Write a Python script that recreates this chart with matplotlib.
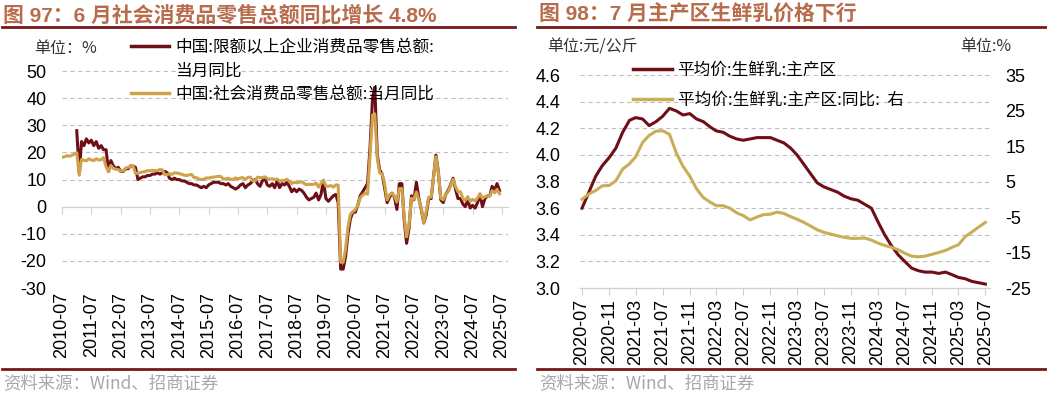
import numpy as np
import pandas as pd
import matplotlib
matplotlib.use('Agg')
import matplotlib.pyplot as plt
from matplotlib.lines import Line2D
import matplotlib.dates as mdates

plt.rcParams['font.family'] = ['Liberation Sans', 'Noto Sans CJK SC', 'DejaVu Sans']
plt.rcParams['axes.unicode_minus'] = False

DARK = '#6E0F17'
GOLD_L = '#D0A24A'
GOLD_R = '#C9AE57'
TITLE_C = '#B86C4C'
RULE_C = '#7A1619'
GRID_C = '#BFBFBF'
SPINE_C = '#D0D0D0'
CJK = ['Noto Sans CJK SC', 'DejaVu Sans']

# ---- left chart: retail sales yoy, monthly 2010-07 .. 2025-06
left_dates = pd.date_range('2010-07-01', '2025-06-01', freq='MS')

rs_2010 = [18.2, 18.4, 18.8, 18.6, 18.9, 19.4]
rs_2011 = [19.9, 11.6, 17.4, 17.1, 16.9, 17.7, 17.2, 17.0, 17.7, 17.2, 17.3, 18.1]
rs_2012 = [14.7, 13.0, 15.2, 14.1, 13.8, 13.7, 13.1, 13.2, 14.2, 14.5, 14.9, 15.2]
rs_2013 = [12.3, 12.3, 12.6, 12.8, 12.9, 13.3, 13.2, 13.4, 13.3, 13.3, 13.7, 13.6]
rs_2014 = [11.8, 11.8, 12.2, 11.9, 12.5, 12.4, 12.2, 11.9, 11.6, 11.5, 11.7, 11.9]
rs_2015 = [10.7, 10.7, 10.2, 10.0, 10.1, 10.6, 10.5, 10.8, 10.9, 11.0, 11.2, 11.1]
rs_2016 = [10.2, 10.2, 10.5, 10.1, 10.0, 10.6, 10.2, 10.6, 10.7, 10.0, 10.8, 10.9]
rs_2017 = [9.5, 9.5, 10.9, 10.7, 10.7, 11.0, 10.4, 10.1, 10.3, 10.0, 10.2, 9.4]
rs_2018 = [9.7, 9.7, 10.1, 9.4, 8.5, 9.0, 8.8, 9.0, 9.2, 8.6, 8.1, 8.2]
rs_2019 = [8.2, 8.2, 8.7, 7.2, 8.6, 9.8, 7.6, 7.5, 7.8, 7.2, 8.0, 8.0]
rs_2020 = [-20.5, -20.5, -15.8, -7.5, -2.8, -1.8, -1.1, 0.5, 3.3, 4.3, 5.0, 4.6]
rs_2021 = [19.0, 33.8, 34.2, 17.7, 12.4, 12.1, 8.5, 2.5, 4.4, 4.9, 3.9, 1.7]
rs_2022 = [6.7, 6.7, -3.5, -11.1, -6.7, 3.1, 2.7, 5.4, 2.5, -0.5, -5.9, -1.8]
rs_2023 = [3.5, 3.5, 10.6, 18.4, 12.7, 3.1, 2.5, 4.6, 5.5, 7.6, 10.1, 7.4]
rs_2024 = [5.5, 5.5, 3.1, 2.3, 3.7, 2.0, 2.7, 2.1, 3.2, 4.8, 3.0, 3.7]
rs_2025 = [4.0, 4.0, 5.9, 5.1, 6.4, 4.8]

dr_2010 = [np.nan] * 6
dr_2011 = [28.0, 12.5, 24.0, 22.5, 25.0, 23.5, 24.5, 22.5, 24.0, 21.5, 22.5, 21.0]
dr_2012 = [21.0, 13.0, 17.0, 15.0, 14.0, 14.5, 13.0, 13.0, 14.0, 14.0, 15.0, 15.0]
dr_2013 = [14.5, 10.0, 10.5, 11.0, 11.0, 11.5, 11.5, 12.0, 12.0, 12.5, 12.0, 12.5]
dr_2014 = [13.0, 12.5, 10.5, 10.0, 10.5, 10.0, 10.0, 9.5, 9.5, 9.0, 8.5, 8.5]
dr_2015 = [8.0, 8.0, 7.5, 7.0, 7.5, 7.0, 8.0, 8.5, 9.0, 9.0, 9.0, 8.5]
dr_2016 = [8.5, 8.0, 8.5, 7.5, 7.0, 6.5, 7.0, 8.0, 8.5, 7.0, 8.0, 8.5]
dr_2017 = [9.5, 10.0, 8.5, 7.5, 9.5, 10.5, 8.0, 7.5, 8.5, 7.0, 9.5, 7.0]
dr_2018 = [8.5, 8.0, 9.0, 7.5, 5.5, 6.5, 5.5, 6.5, 6.0, 5.0, 3.5, 2.5]
dr_2019 = [3.0, 3.5, 5.0, 2.5, 4.5, 9.5, 3.0, 2.0, 3.0, 4.0, 4.5, 1.5]
dr_2020 = [-23.0, -23.0, -18.5, -10.0, -4.5, -2.0, -2.0, 0.5, 4.0, 5.5, 7.0, 8.5]
dr_2021 = [22.0, 40.0, 44.0, 19.0, 13.5, 12.0, 7.0, 1.5, 3.5, 5.0, 3.5, -1.0]
dr_2022 = [8.5, 8.5, -4.5, -13.5, -8.0, 4.0, 2.5, 9.0, 3.0, -1.0, -6.0, -3.0]
dr_2023 = [3.0, 3.0, 10.5, 19.0, 13.0, 2.5, 1.5, 4.5, 6.0, 8.0, 10.5, 6.5]
dr_2024 = [3.0, 3.0, 1.0, 0.0, 2.5, -0.5, 0.5, -0.5, 1.5, 4.5, 0.0, 3.0]
dr_2025 = [4.0, 4.0, 7.5, 6.0, 8.5, 6.0]

retail_yoy = (rs_2010 + rs_2011 + rs_2012 + rs_2013 + rs_2014 + rs_2015 + rs_2016 + rs_2017
              + rs_2018 + rs_2019 + rs_2020 + rs_2021 + rs_2022 + rs_2023 + rs_2024 + rs_2025)
above_yoy = (dr_2010 + dr_2011 + dr_2012 + dr_2013 + dr_2014 + dr_2015 + dr_2016 + dr_2017
             + dr_2018 + dr_2019 + dr_2020 + dr_2021 + dr_2022 + dr_2023 + dr_2024 + dr_2025)
left_ticks = pd.date_range('2010-07-01', '2025-07-01', freq='12MS')

# ---- right chart: raw milk price, monthly 2020-07 .. 2025-07
right_dates = pd.date_range('2020-07-01', '2025-07-01', freq='MS')
milk_price = [3.60, 3.72, 3.84, 3.92, 3.98, 4.05, 4.17, 4.26, 4.28, 4.27, 4.22, 4.25,
              4.29, 4.35, 4.33, 4.30, 4.31, 4.27, 4.25, 4.21, 4.18, 4.17, 4.14, 4.12,
              4.11, 4.12, 4.13, 4.13, 4.13, 4.11, 4.09, 4.05, 4.00, 3.93, 3.86, 3.79,
              3.76, 3.74, 3.72, 3.69, 3.67, 3.66, 3.63, 3.60, 3.50, 3.40, 3.32, 3.25,
              3.20, 3.15, 3.13, 3.12, 3.12, 3.11, 3.12, 3.10, 3.08, 3.07, 3.05, 3.04, 3.03]
milk_yoy = [0.0, 1.5, 2.5, 3.8, 3.9, 5.2, 8.5, 10.0, 12.0, 16.0, 18.0, 19.2,
            19.3, 18.3, 13.0, 9.3, 6.5, 3.0, 0.5, -0.8, -1.8, -1.8, -2.5, -3.8,
            -4.6, -5.8, -5.0, -4.3, -4.2, -3.6, -4.0, -4.9, -5.6, -6.5, -7.5, -8.6,
            -9.3, -9.8, -10.3, -10.7, -11.0, -11.0, -10.9, -11.5, -12.3, -13.0, -13.5, -14.2,
            -15.2, -16.0, -16.2, -16.0, -15.5, -15.0, -14.4, -13.5, -12.8, -10.5, -9.2, -7.8, -6.5]
right_ticks = pd.date_range('2020-07-01', '2025-07-01', freq='4MS')

fig = plt.figure(figsize=(10.47, 3.99), dpi=100)

# header / footer text and rules
fig.text(0.003, 0.963, '图 97：6 月社会消费品零售总额同比增长 4.8%', color=TITLE_C,
         fontsize=15, fontweight='bold', va='center', family=['Liberation Sans'] + CJK)
fig.text(0.515, 0.963, '图 98：7 月主产区生鲜乳价格下行', color=TITLE_C,
         fontsize=15, fontweight='bold', va='center', family=['Liberation Sans'] + CJK)
for x0, x1 in [(0.002, 0.492), (0.513, 1.0)]:
    fig.add_artist(Line2D([x0, x1], [0.932, 0.932], color=RULE_C, lw=2, transform=fig.transFigure))
    fig.add_artist(Line2D([x0, x1], [0.075, 0.075], color=RULE_C, lw=2, transform=fig.transFigure))
fig.text(0.003, 0.040, '资料来源：Wind、招商证券', color='#A8A8A8', fontsize=12.5,
         va='center', family=CJK)
fig.text(0.515, 0.040, '资料来源：Wind、招商证券', color='#A8A8A8', fontsize=12.5,
         va='center', family=CJK)
fig.text(0.033, 0.878, '单位：%', fontsize=11.5, va='center', color='#333333', family=CJK)
fig.text(0.523, 0.883, '单位:元/公斤', fontsize=11.5, va='center', color='#333333', family=CJK)
fig.text(0.917, 0.883, '单位:%', fontsize=11.5, va='center', color='#333333', family=CJK)

# ---------------- left chart
ax = fig.add_axes([0.0592, 0.278, 0.4260, 0.544])
ax.plot(left_dates, above_yoy, color=DARK, lw=2.2, zorder=3)
ax.plot(left_dates, retail_yoy, color=GOLD_L, lw=2.2, zorder=4)
ax.set_ylim(-30, 50)
ax.set_yticks(np.arange(-30, 51, 10))
ax.set_xlim(pd.Timestamp('2010-07-01'), pd.Timestamp('2025-09-15'))
for s in ['left', 'right', 'top']:
    ax.spines[s].set_visible(False)
ax.spines['bottom'].set_position(('data', 0))
ax.spines['bottom'].set_color(SPINE_C)
ax.grid(axis='y', ls=(0, (4, 3)), color=GRID_C, lw=0.8)
ax.set_axisbelow(True)
ax.set_xticks(left_ticks)
ax.set_xticklabels([])
ax.tick_params(axis='x', length=5, color=SPINE_C, direction='out')
ax.tick_params(axis='y', length=0, pad=11, labelsize=13)
sec = ax.secondary_xaxis('bottom')
sec.set_xticks(left_ticks)
sec.set_xticklabels([d.strftime('%Y-%m') for d in left_ticks], rotation=90, fontsize=13)
sec.tick_params(length=0, pad=3)
sec.spines['bottom'].set_visible(False)

left_handles = [Line2D([], [], color=DARK, lw=2.5),
                Line2D([], [], color='none'),
                Line2D([], [], color=GOLD_L, lw=2.5)]
left_labels = ['中国:限额以上企业消费品零售总额:', '当月同比', '中国:社会消费品零售总额:当月同比']
fig.legend(left_handles, left_labels, loc='upper left', bbox_to_anchor=(0.125, 0.902),
           frameon=False, prop={'family': CJK, 'size': 12}, handlelength=2.3,
           handletextpad=0.35, labelspacing=0.38, borderpad=0, borderaxespad=0)

# ---------------- right chart
ax2 = fig.add_axes([0.554, 0.278, 0.3916, 0.534])
ax2.plot(right_dates, milk_price, color=DARK, lw=2.2, zorder=3)
ax2.set_ylim(3.0, 4.6)
ax2.set_yticks(np.arange(3.0, 4.61, 0.2))
ax2.yaxis.set_major_formatter(matplotlib.ticker.FormatStrFormatter('%.1f'))
ax2.set_xlim(pd.Timestamp('2020-06-22'), pd.Timestamp('2025-07-22'))
ax2.grid(axis='y', ls=(0, (4, 3)), color=GRID_C, lw=0.8)
ax2.set_axisbelow(True)
ax2.set_xticks(right_ticks)
ax2.set_xticklabels([d.strftime('%Y-%m') for d in right_ticks], rotation=90, fontsize=13)
ax2.tick_params(axis='x', length=5, color=SPINE_C, direction='out', pad=3)
ax2.tick_params(axis='y', length=0, pad=14, labelsize=13)

ax3 = ax2.twinx()
ax3.plot(right_dates, milk_yoy, color=GOLD_R, lw=2.2, zorder=3)
ax3.set_ylim(-25, 35)
ax3.set_yticks(np.arange(-25, 36, 10))
ax3.tick_params(axis='y', length=0, pad=11, labelsize=13)
for a in (ax2, ax3):
    for s in ['left', 'right', 'top']:
        a.spines[s].set_visible(False)
    a.spines['bottom'].set_color(SPINE_C)

right_handles = [Line2D([], [], color=DARK, lw=2.5), Line2D([], [], color=GOLD_R, lw=2.5)]
right_labels = ['平均价:生鲜乳:主产区', '平均价:生鲜乳:主产区:同比:  右']
fig.legend(right_handles, right_labels, loc='upper left', bbox_to_anchor=(0.605, 0.845),
           frameon=False, prop={'family': CJK, 'size': 12}, handlelength=2.3,
           handletextpad=0.35, labelspacing=0.75, borderpad=0, borderaxespad=0)

fig.savefig('out.png', dpi=100)
